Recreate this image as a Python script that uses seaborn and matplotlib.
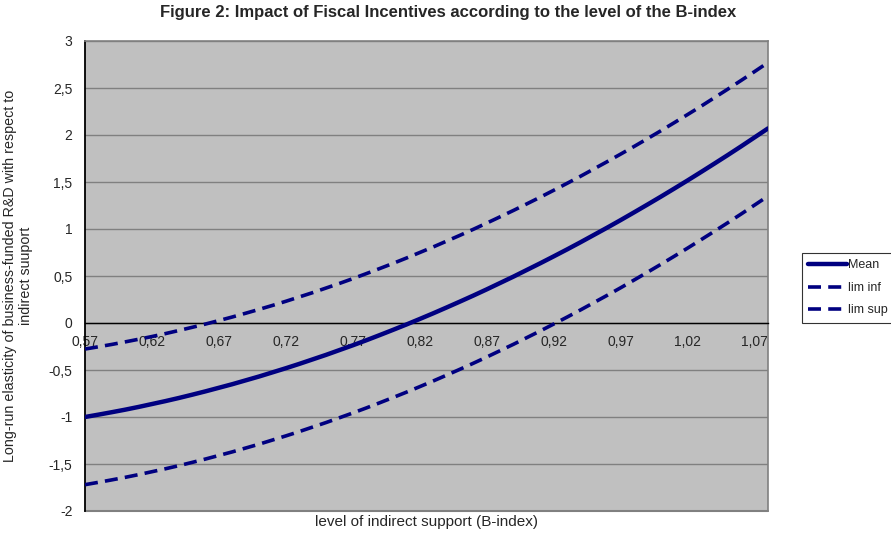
import numpy as np
import pandas as pd
import matplotlib
matplotlib.use("Agg")
import matplotlib.pyplot as plt
import seaborn as sns
from matplotlib.lines import Line2D

# B-index levels (one point per 0.01) and the three curves
b_index = [0.57, 0.58, 0.59, 0.60, 0.61, 0.62, 0.63, 0.64, 0.65, 0.66,
           0.67, 0.68, 0.69, 0.70, 0.71, 0.72, 0.73, 0.74, 0.75, 0.76,
           0.77, 0.78, 0.79, 0.80, 0.81, 0.82, 0.83, 0.84, 0.85, 0.86,
           0.87, 0.88, 0.89, 0.90, 0.91, 0.92, 0.93, 0.94, 0.95, 0.96,
           0.97, 0.98, 0.99, 1.00, 1.01, 1.02, 1.03, 1.04, 1.05, 1.06,
           1.07, 1.08]

mean = [-1.000, -0.975, -0.949, -0.922, -0.893, -0.862, -0.831, -0.798, -0.763, -0.727,
        -0.689, -0.651, -0.610, -0.569, -0.525, -0.481, -0.435, -0.387, -0.339, -0.288,
        -0.237, -0.184, -0.129, -0.073, -0.016, 0.043, 0.103, 0.165, 0.228, 0.292,
        0.358, 0.426, 0.494, 0.565, 0.636, 0.709, 0.783, 0.859, 0.937, 1.015,
        1.095, 1.177, 1.260, 1.344, 1.430, 1.517, 1.606, 1.696, 1.787, 1.880,
        1.975, 2.070]

lim_inf = [-1.720, -1.695, -1.669, -1.642, -1.613, -1.582, -1.551, -1.518, -1.483, -1.447,
           -1.409, -1.371, -1.330, -1.289, -1.245, -1.201, -1.155, -1.107, -1.059, -1.008,
           -0.957, -0.904, -0.849, -0.793, -0.736, -0.677, -0.617, -0.555, -0.492, -0.428,
           -0.362, -0.294, -0.226, -0.155, -0.084, -0.011, 0.063, 0.139, 0.217, 0.295,
           0.375, 0.457, 0.540, 0.624, 0.710, 0.797, 0.886, 0.976, 1.067, 1.160,
           1.255, 1.350]

lim_sup = [-0.277, -0.253, -0.228, -0.201, -0.173, -0.144, -0.113, -0.080, -0.046, -0.011,
           0.026, 0.064, 0.104, 0.145, 0.187, 0.231, 0.277, 0.323, 0.372, 0.421,
           0.472, 0.525, 0.579, 0.634, 0.691, 0.750, 0.809, 0.871, 0.933, 0.997,
           1.063, 1.130, 1.198, 1.268, 1.339, 1.412, 1.486, 1.561, 1.639, 1.717,
           1.797, 1.878, 1.961, 2.045, 2.131, 2.218, 2.306, 2.397, 2.488, 2.581,
           2.675, 2.771]

series_names = ["Mean", "lim inf", "lim sup"]

x_ticks = [0.57, 0.62, 0.67, 0.72, 0.77, 0.82, 0.87, 0.92, 0.97, 1.02, 1.07]
x_labels = ["0,57", "0,62", "0,67", "0,72", "0,77", "0,82", "0,87", "0,92", "0,97", "1,02", "1,07"]
y_ticks = [-2, -1.5, -1, -0.5, 0, 0.5, 1, 1.5, 2, 2.5, 3]
y_labels = ["-2", "-1,5", "-1", "-0,5", "0", "0,5", "1", "1,5", "2", "2,5", "3"]

sns.set_style("white")
plt.rcParams["font.family"] = ["Liberation Sans", "DejaVu Sans"]

navy = "#000080"
grey = "#808080"

df = pd.DataFrame({
    "b": b_index * 3,
    "value": mean + lim_inf + lim_sup,
    "series": [series_names[0]] * len(mean) + [series_names[1]] * len(lim_inf) + [series_names[2]] * len(lim_sup),
})

W, H = 891, 538
fig = plt.figure(figsize=(W / 100, H / 100), dpi=100)
ax = fig.add_axes([85 / W, 1 - 511 / H, 683 / W, 470 / H])
ax.set_facecolor("#C0C0C0")

sns.lineplot(data=df, x="b", y="value", hue="series", style="series", size="series",
             palette={n: navy for n in series_names},
             dashes={"Mean": "", "lim inf": (3.6, 2.0), "lim sup": (3.6, 2.0)},
             sizes={"Mean": 3.2, "lim inf": 2.6, "lim sup": 2.6},
             estimator=None, sort=False, legend=False, ax=ax, zorder=3)

ax.set_xlim(0.57, 1.08)
ax.set_ylim(-2, 3)
ax.set_xticks(x_ticks)
ax.set_xticklabels(x_labels, fontsize=10)
ax.set_yticks(y_ticks)
ax.set_yticklabels(y_labels, fontsize=10)
ax.tick_params(axis="both", length=0)
ax.tick_params(axis="x", pad=9)
ax.tick_params(axis="y", pad=9)

ax.yaxis.grid(True, color=grey, lw=1)
ax.xaxis.grid(False)
ax.set_axisbelow(True)

# category axis crosses at 0
ax.spines["bottom"].set_position(("data", 0))
ax.spines["bottom"].set_color("black")
ax.spines["bottom"].set_linewidth(1)
ax.spines["left"].set_color("black")
ax.spines["left"].set_linewidth(1.3)
for s in ["top", "right"]:
    ax.spines[s].set_color(grey)
    ax.spines[s].set_linewidth(1.2)
ax.axhline(-2, color=grey, lw=1.5, clip_on=False, zorder=2.5)

ax.set_xlabel("level of indirect support (B-index)", fontsize=11)
ax.xaxis.set_label_coords(0.5, -0.008)
ax.set_ylabel("Long-run elasticity of business-funded R&D with respect to\nindirect suuport", fontsize=10.3)
ax.yaxis.set_label_coords((33 - 85) / 683, 0.5)

fig.text(448 / W, 1 - 13 / H,
         "Figure 2: Impact of Fiscal Incentives according to the level of the B-index",
         ha="center", va="center", fontsize=12, fontweight="bold")

handles = [Line2D([], [], color=navy, lw=3.2),
           Line2D([], [], color=navy, lw=2.6, dashes=(3.6, 2.0)),
           Line2D([], [], color=navy, lw=2.6, dashes=(3.6, 2.0))]
leg = ax.legend(handles, series_names, loc="upper left",
                bbox_to_anchor=(802 / W, 1 - 253 / H), bbox_transform=fig.transFigure,
                frameon=True, fancybox=False, edgecolor="black", fontsize=9,
                handlelength=3.1, handletextpad=0.1, labelspacing=0.85,
                borderpad=0.5, borderaxespad=0)
leg.get_frame().set_linewidth(0.8)

fig.savefig("out.png", dpi=100)
